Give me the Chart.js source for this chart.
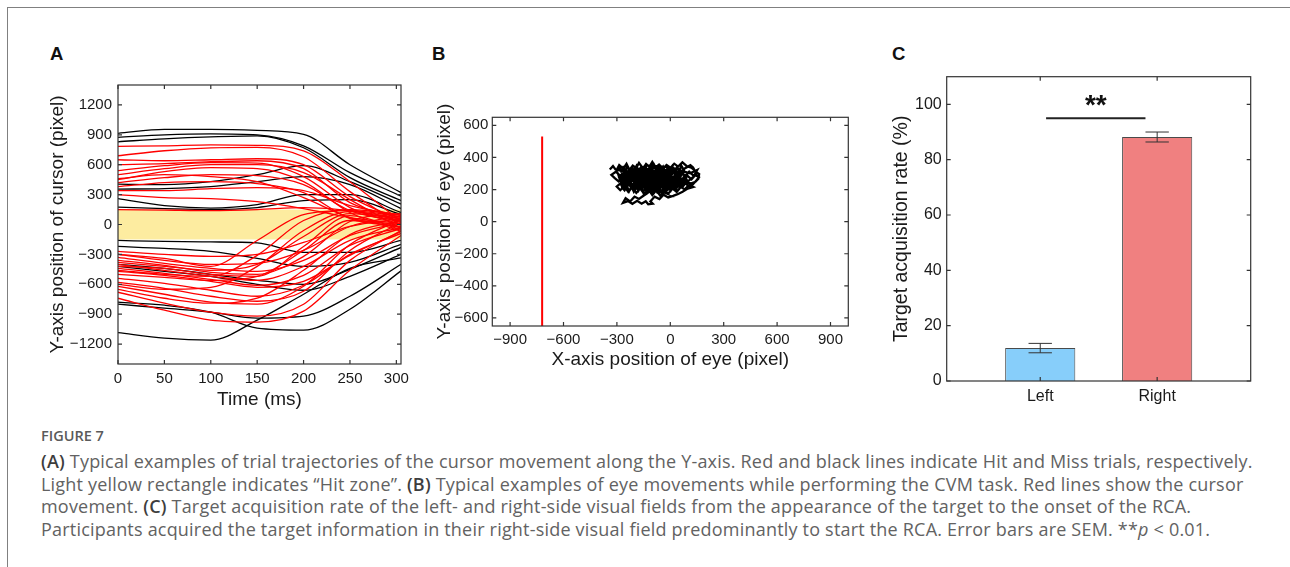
<!DOCTYPE html>
<html>
<head>
<meta charset="utf-8">
<title>Figure 7</title>
<script src="https://cdn.jsdelivr.net/npm/chart.js@4.4.1/dist/chart.umd.min.js"></script>
<style>
  html, body { margin: 0; padding: 0; background: #fff; }
  body { width: 1290px; height: 567px; position: relative; overflow: hidden; }
  .frame { position: absolute; left: 7px; top: 7px; right: -10px; bottom: -10px;
           border-left: 1.5px solid #808080; border-top: 1.5px solid #808080; }
  canvas { position: absolute; }
  .panel-letter { position: absolute; font: bold 18.5px 'Liberation Sans', Arial, sans-serif; line-height: 1; color: #111; }
  .caption { position: absolute; left: 41px; top: 428px; font-family: 'Open Sans', sans-serif; color: #626262; white-space: nowrap; }
  .caption .fig { font-size: 14.5px; font-weight: 600; line-height: 15px; margin-bottom: 7px; color: #5a5a5a; }
  .caption p { margin: 0; font-size: 18px; line-height: 22.7px; letter-spacing: 0.2px; }
  .caption b { font-weight: 600; color: #3d3d3d; }
</style>
</head>
<body>
<div class="frame"></div>

<div class="panel-letter" style="left:50px;top:45px">A</div>
<div class="panel-letter" style="left:432px;top:45px">B</div>
<div class="panel-letter" style="left:892px;top:45px">C</div>

<canvas id="chartA" width="380" height="345" style="left:40px;top:70px"></canvas>
<canvas id="chartB" width="440" height="280" style="left:425px;top:100px"></canvas>
<canvas id="chartC" width="395" height="360" style="left:880px;top:60px"></canvas>

<div class="caption">
  <div class="fig">FIGURE 7</div>
  <p><b>(A)</b> Typical examples of trial trajectories of the cursor movement along the Y-axis. Red and black lines indicate Hit and Miss trials, respectively.<br>
  Light yellow rectangle indicates “Hit zone”. <b>(B)</b> Typical examples of eye movements while performing the CVM task. Red lines show the cursor<br>
  movement. <b>(C)</b> Target acquisition rate of the left- and right-side visual fields from the appearance of the target to the onset of the RCA.<br>
  Participants acquired the target information in their right-side visual field predominantly to start the RCA. Error bars are SEM. **<i>p</i> &lt; 0.01.</p>
</div>

<script>
// ---- Panel A: cursor Y position over time ----
const trajTime = [0, 50, 100, 150, 200, 250, 305];
const hitZone = [-150, 150];
const timeTicks = [0, 50, 100, 150, 200, 250, 300];
const cursorTicks = [-1200, -900, -600, -300, 0, 300, 600, 900, 1200];

// Hit trials (red)
const hitTrials = [
  [785, 790, 800, 795, 740, 430, 30],
  [690, 740, 770, 775, 680, 330, -10],
  [650, 640, 650, 660, 600, 280, 40],
  [600, 610, 630, 640, 560, 220, 70],
  [540, 590, 620, 615, 480, 170, 0],
  [500, 560, 600, 600, 520, 250, -40],
  [450, 530, 570, 560, 430, 120, -70],
  [420, 470, 500, 490, 400, 140, 30],
  [380, 420, 430, 410, 320, 60, -20],
  [340, 340, 360, 370, 340, 190, 90],
  [460, 500, 480, 430, 270, 70, -30],
  [300, 270, 260, 230, 160, 70, 10],
  [150, 145, 140, 150, 170, 140, 40],
  [-270, -300, -320, -300, -180, -20, 60],
  [-300, -360, -400, -390, -260, -20, 90],
  [-330, -390, -440, -470, -360, -110, 20],
  [-360, -410, -480, -500, -320, 30, 110],
  [-380, -420, -460, -400, -120, 110, 60],
  [-400, -460, -520, -560, -420, -160, -30],
  [-420, -440, -500, -520, -220, 90, -50],
  [-440, -490, -550, -610, -510, -210, -40],
  [-470, -510, -570, -630, -570, -310, -70],
  [-500, -530, -560, -520, -260, 40, 0],
  [-540, -590, -660, -720, -610, -300, -90],
  [-580, -640, -720, -770, -670, -260, 20],
  [-620, -700, -780, -800, -620, -200, 50],
  [-680, -790, -880, -920, -800, -360, -60],
  [-740, -860, -960, -980, -870, -460, -110],
  [-650, -740, -790, -740, -460, -100, 40],
  [-300, -340, -420, -160, 100, 140, 80],
  [-460, -500, -520, -310, 40, 150, 100],
  [-600, -650, -630, -420, -60, 130, 60]
];

// Miss trials (black)
const missTrials = [
  [915, 955, 955, 945, 905, 600, 320],
  [875, 900, 910, 900, 790, 520, 285],
  [830, 860, 880, 890, 770, 470, 240],
  [405, 400, 430, 500, 590, 430, 205],
  [355, 360, 380, 430, 480, 400, 160],
  [260, 190, 165, 200, 300, 300, 120],
  [175, 160, 150, 170, 240, 250, 100],
  [-160, -170, -175, -185, -280, -280, -160],
  [-220, -240, -270, -340, -420, -380, -200],
  [-400, -440, -500, -560, -600, -450, -230],
  [-420, -470, -520, -600, -660, -520, -300],
  [-780, -810, -880, -1040, -1060, -850, -465],
  [-1085, -1140, -1160, -960, -700, -440, -335],
  [-800, -840, -880, -940, -920, -720, -400]
];

// ---- Panel B: eye position during a trial ----
const eyeTicksX = [-900, -600, -300, 0, 300, 600, 900];
const eyeTicksY = [-600, -400, -200, 0, 200, 400, 600];
const cursorPathX = [-720, -720];
const cursorPathY = [-650, 530];
const eyeTrace = [
  [-340,325],[-322,346],[-303,318],[-287,352],[-264,330],[-246,360],[-229,322],[-211,349],[-192,334],[-176,366],
  [-153,331],[-136,359],[-118,341],[-101,372],[-82,338],[-63,356],[-41,331],[-21,353],[1,336],[22,361],
  [44,343],[68,369],[93,346],[118,337],[139,318],
  [152,300],[129,288],[106,311],[83,283],[61,306],[38,279],[16,313],[-8,286],[-30,319],[-53,291],
  [-75,323],[-98,289],[-121,316],[-143,283],[-166,319],[-189,291],[-211,313],[-233,281],[-256,306],[-281,286],
  [-306,311],[-331,291],
  [-312,271],[-291,251],[-269,286],[-246,249],[-223,281],[-201,241],[-179,276],[-156,246],[-133,283],[-111,239],
  [-89,273],[-66,236],[-43,269],[-21,243],[3,279],[26,241],[49,271],[73,251],[96,286],[119,263],
  [141,291],[161,276],[146,256],[126,231],
  [101,223],[79,246],[56,213],[33,239],[11,206],[-13,233],[-36,199],[-59,229],[-81,196],[-103,226],
  [-126,201],[-149,233],[-171,206],[-193,239],[-216,209],[-239,241],[-261,213],[-283,236],[-301,219],
  [-281,196],[-259,221],[-236,186],[-213,216],[-191,179],[-169,206],[-146,173],[-123,201],[-101,166],[-79,196],
  [-56,161],[-33,191],[-11,176],[13,206],[36,186],[59,216],[81,201],[106,229],[129,216],
  [98,206],[69,186],[41,171],[16,161],[-12,151],[-38,168],[-61,141],[-88,156],[-112,126],[-99,112],
  [-124,108],[-138,127],[-161,112],[-186,130],[-213,111],[-238,128],[-266,117],[-251,146],[-226,126],[-201,156],
  [-176,141],[-151,161],[-128,178],
  [-101,208],[-62,232],[-21,301],[-109,262],[-41,216],[-151,292],[-81,341],[-199,261],[-121,231],[-31,272],
  [-181,321],[-91,302],[9,251],[-59,183],[-139,251],[-49,322],[31,301],[-9,222],[61,262],[-99,282],
  [-171,229],[-231,301],[-131,351],[-19,341],[51,321],[111,301],[151,322],[131,281],[89,241],[41,229],
  [-19,196],[-79,241],[-149,271],[-219,256],[-279,266],[-246,226],[-186,281],[-126,311],[-66,262],[-6,291],
  [46,256],[-36,246],[-106,219],[-166,246],[-206,296],[-156,336],[-96,316],[-46,294],[6,321],[71,296],
  [-16,266],[-86,226],
  [39,286],[81,331],[113,352],[128,338],[140,312],[162,296],[158,268],[141,248],[118,239],
  [-300,322],[-289,341],[-277,315],[-265,338],[-252,318],[-241,344],[-228,312],[-216,337],[-203,320],[-190,347],
  [-178,314],[-166,336],[-153,319],[-141,348],[-128,316],[-115,339],[-103,321],[-90,350],[-78,313],[-65,338],
  [-52,317],[-40,342],[-27,311],[-14,336],[-2,318],[11,345],[24,315],[37,339],[50,320],[63,346],[76,322],
  [70,298],[57,281],[44,309],[31,284],[18,312],[5,287],[-8,306],[-21,279],[-34,311],[-47,283],
  [-60,308],[-73,280],[-86,313],[-99,286],[-112,305],[-125,278],[-138,310],[-151,285],[-164,307],[-177,279],
  [-190,312],[-203,284],[-216,306],[-229,281],[-242,309],[-255,287],[-268,303],[-281,282],[-294,300],
  [-285,268],[-272,252],[-259,281],[-246,256],[-233,284],[-220,251],[-207,278],[-194,254],[-181,286],[-168,249],
  [-155,279],[-142,257],[-129,283],[-116,250],[-103,277],[-90,255],[-77,285],[-64,248],[-51,280],[-38,256],
  [-25,282],[-12,251],[1,276],[14,258],[27,284],[40,253],[53,279],[66,260],[79,283],[92,262],
  [85,240],[72,221],[59,249],[46,224],[33,252],[20,218],[7,246],[-6,222],[-19,250],[-32,216],
  [-45,244],[-58,223],[-71,253],[-84,219],[-97,247],[-110,225],[-123,251],[-136,217],[-149,245],[-162,226],
  [-175,252],[-188,220],[-201,248],[-214,227],[-227,250],[-240,221],[-253,246],[-266,229],[-279,249],
  [-270,212],[-257,195],[-244,221],[-231,190],[-218,217],[-205,187],[-192,214],[-179,192],[-166,220],[-153,184],
  [-140,211],[-127,189],[-114,218],[-101,181],[-88,209],[-75,186],[-62,215],[-49,178],[-36,206],[-23,190],
  [-10,213],[3,193],[16,219],[29,197],[42,222],
  [30,205],[-60,340],[-140,200],[-220,330],[-260,240],[-120,290],[10,330],[-80,200],[-180,260],[-40,300],
  [60,230],[-200,210],[-100,350],[20,270],[-150,320],[-250,280],[-30,180],[-110,240],[-170,300],[40,310],
  [-70,270],[-230,230],[0,240],[-130,180]
];

// ---- Panel C: target acquisition rate ----
const sides = ['Left', 'Right'];
const acqRate = [11.9, 88.2];
const acqSem = [1.7, 1.8];
const rateTicks = [0, 20, 40, 60, 80, 100];
const sigBracket = { from: 1.05, to: 1.9, y: 95, label: '**', labelY: 101 };

Chart.defaults.font.family = "'Liberation Sans', Arial, Helvetica, sans-serif";
Chart.defaults.color = '#1a1a1a';

const fmt = v => String(v).replace('-', '\u2212');

// box around the plot area with MATLAB-style inward ticks on all four sides
const frameTicks = {
  id: 'frameTicks',
  afterDatasetsDraw(chart) {
    const { ctx, chartArea: a, scales: { x, y } } = chart;
    const len = 4;
    ctx.save();
    ctx.strokeStyle = '#333';
    ctx.lineWidth = 1.2;
    ctx.strokeRect(a.left, a.top, a.right - a.left, a.bottom - a.top);
    ctx.beginPath();
    x.ticks.forEach(t => {
      const px = x.getPixelForValue(t.value);
      ctx.moveTo(px, a.bottom); ctx.lineTo(px, a.bottom - len);
      ctx.moveTo(px, a.top); ctx.lineTo(px, a.top + len);
    });
    y.ticks.forEach(t => {
      const py = y.getPixelForValue(t.value);
      ctx.moveTo(a.left, py); ctx.lineTo(a.left + len, py);
      ctx.moveTo(a.right, py); ctx.lineTo(a.right - len, py);
    });
    ctx.stroke();
    ctx.restore();
  }
};

const hitZonePlugin = {
  id: 'hitZone',
  beforeDatasetsDraw(chart) {
    const { ctx, chartArea: a, scales: { y } } = chart;
    const top = y.getPixelForValue(hitZone[1]);
    const bottom = y.getPixelForValue(hitZone[0]);
    ctx.save();
    ctx.fillStyle = '#fdeca0';
    ctx.fillRect(a.left, top, a.right - a.left, bottom - top);
    ctx.restore();
  }
};

const errorBars = {
  id: 'errorBars',
  afterDatasetsDraw(chart) {
    const { ctx, scales: { x, y } } = chart;
    ctx.save();
    ctx.strokeStyle = '#333';
    ctx.lineWidth = 1;
    acqRate.forEach((v, i) => {
      const px = x.getPixelForValue(i + 1);
      const hi = y.getPixelForValue(v + acqSem[i]);
      const lo = y.getPixelForValue(v - acqSem[i]);
      const cap = x.getPixelForValue(i + 1.1) - px;
      ctx.beginPath();
      ctx.moveTo(px, hi); ctx.lineTo(px, lo);
      ctx.moveTo(px - cap, hi); ctx.lineTo(px + cap, hi);
      ctx.moveTo(px - cap, lo); ctx.lineTo(px + cap, lo);
      ctx.stroke();
    });
    ctx.restore();
  }
};

const significance = {
  id: 'significance',
  afterDatasetsDraw(chart) {
    const { ctx, scales: { x, y } } = chart;
    const y0 = y.getPixelForValue(sigBracket.y);
    ctx.save();
    ctx.strokeStyle = '#222';
    ctx.lineWidth = 2;
    ctx.beginPath();
    ctx.moveTo(x.getPixelForValue(sigBracket.from), y0);
    ctx.lineTo(x.getPixelForValue(sigBracket.to), y0);
    ctx.stroke();
    ctx.fillStyle = '#111';
    ctx.font = "bold 28px 'Liberation Sans', Arial, sans-serif";
    ctx.textAlign = 'center';
    ctx.textBaseline = 'middle';
    const mid = (sigBracket.from + sigBracket.to) / 2;
    ctx.fillText(sigBracket.label, x.getPixelForValue(mid), y.getPixelForValue(sigBracket.labelY) + 5);
    ctx.restore();
  }
};

function axis(opts) {
  const { min, max, tickValues, size, horizontal, tickFont, padding, title, titleFont, titlePad, labels } = opts;
  return {
    type: 'linear', min, max, offset: false,
    grid: { display: false, drawTicks: false },
    border: { display: false },
    afterBuildTicks: s => { s.ticks = tickValues.map(v => ({ value: v })); },
    afterFit: s => { if (horizontal) s.height = size; else s.width = size; },
    ticks: {
      padding, autoSkip: false, maxRotation: 0,
      font: { size: tickFont },
      callback: labels ? (v, i) => labels[i] : fmt
    },
    title: title ? { display: true, text: title, font: { size: titleFont }, padding: titlePad } : { display: false }
  };
}

const baseOptions = {
  responsive: false,
  animation: false,
  devicePixelRatio: 1,
  events: []
};

// Panel A
const lineSet = (vals, color) => ({
  data: vals.map((v, i) => ({ x: trajTime[i], y: v })),
  borderColor: color,
  borderWidth: 1.3,
  pointRadius: 0,
  cubicInterpolationMode: 'monotone',
  fill: false
});

new Chart(document.getElementById('chartA'), {
  type: 'line',
  data: {
    datasets: [
      ...hitTrials.map(t => lineSet(t, '#ff0000')),
      ...missTrials.map(t => lineSet(t, '#000000'))
    ]
  },
  options: {
    ...baseOptions,
    layout: { padding: { top: 12, right: 19, left: 0, bottom: 0 } },
    plugins: { legend: { display: false }, tooltip: { enabled: false } },
    scales: {
      x: axis({ min: 0, max: 305, tickValues: timeTicks, size: 51, horizontal: true, tickFont: 15, padding: 6,
                title: 'Time (ms)', titleFont: 19, titlePad: { top: 0, bottom: 3.6 } }),
      y: axis({ min: -1400, max: 1400, tickValues: cursorTicks, size: 78, horizontal: false, tickFont: 15, padding: 6,
                title: 'Y-axis position of cursor (pixel)', titleFont: 19, titlePad: { top: 6.6, bottom: 0 } })
    }
  },
  plugins: [hitZonePlugin, frameTicks]
});

// Panel B
new Chart(document.getElementById('chartB'), {
  type: 'scatter',
  data: {
    datasets: [
      {
        data: cursorPathX.map((x, i) => ({ x, y: cursorPathY[i] })),
        showLine: true, borderColor: '#ff0000', borderWidth: 2, pointRadius: 0
      },
      {
        data: eyeTrace.map(([x, y]) => ({ x, y })),
        showLine: true, borderColor: '#000000', borderWidth: 2.3, pointRadius: 0
      }
    ]
  },
  options: {
    ...baseOptions,
    layout: { padding: { top: 17.3, right: 16.7, left: 0, bottom: 0 } },
    plugins: { legend: { display: false }, tooltip: { enabled: false } },
    scales: {
      x: axis({ min: -1000, max: 1000, tickValues: eyeTicksX, size: 54, horizontal: true, tickFont: 15, padding: 5,
                title: 'X-axis position of eye (pixel)', titleFont: 19, titlePad: { top: 0, bottom: 9.3 } }),
      y: axis({ min: -650, max: 650, tickValues: eyeTicksY, size: 67.3, horizontal: false, tickFont: 15, padding: 4,
                title: 'Y-axis position of eye (pixel)', titleFont: 19, titlePad: { top: 8.6, bottom: 0 } })
    }
  },
  plugins: [frameTicks]
});

// Panel C
new Chart(document.getElementById('chartC'), {
  type: 'bar',
  data: {
    datasets: [{
      data: acqRate.map((v, i) => ({ x: i + 1, y: v })),
      backgroundColor: ['#87cefa', '#f08080'],
      borderColor: '#4a4a4a',
      borderWidth: 1,
      categoryPercentage: 1,
      barPercentage: 0.6
    }]
  },
  options: {
    ...baseOptions,
    layout: { padding: { top: 16.7, right: 24.3, left: 0, bottom: 0 } },
    plugins: { legend: { display: false }, tooltip: { enabled: false } },
    scales: {
      x: axis({ min: 0.2, max: 2.8, tickValues: [1, 2], size: 39, horizontal: true, tickFont: 16, padding: 6,
                labels: sides }),
      y: axis({ min: 0, max: 110, tickValues: rateTicks, size: 66.7, horizontal: false, tickFont: 16, padding: 5,
                title: 'Target acquisition rate (%)', titleFont: 19.5, titlePad: { top: 10, bottom: 0 } })
    }
  },
  plugins: [frameTicks, errorBars, significance]
});
</script>
</body>
</html>
